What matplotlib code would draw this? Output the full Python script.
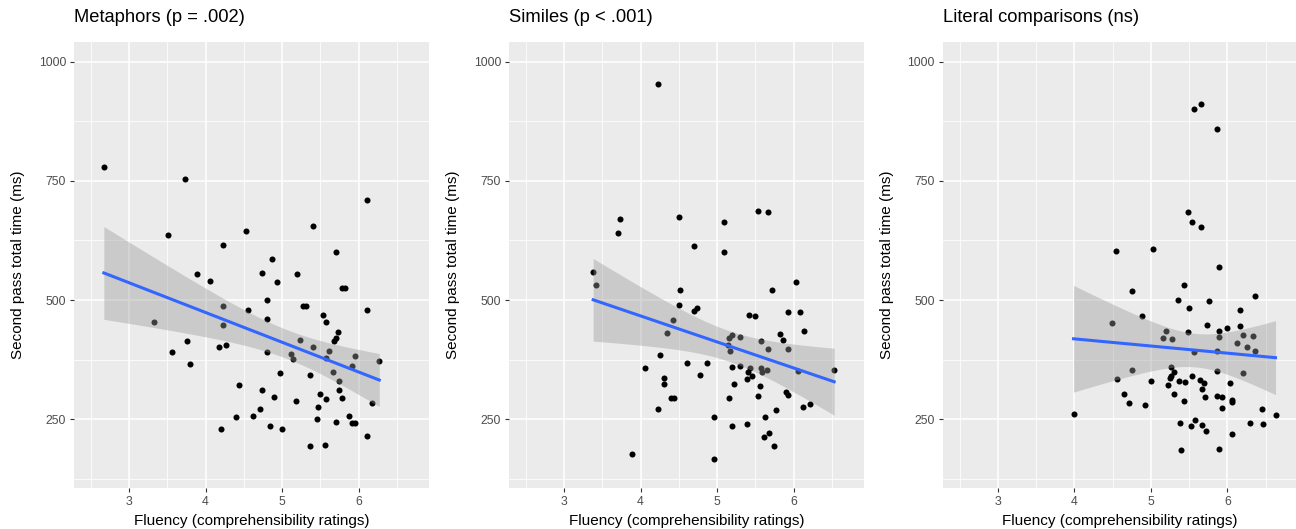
import numpy as np
import matplotlib.pyplot as plt

plt.rcParams['font.family'] = ['Liberation Sans', 'DejaVu Sans']

# values
met_x = [2.67, 3.73, 3.51, 4.23, 4.53, 3.89, 4.06, 4.23, 4.55, 3.32, 4.23, 3.76, 3.56,
         4.17, 4.27, 3.80, 4.44, 4.40, 4.20, 6.11, 5.40, 5.71, 4.87, 4.74, 5.20, 4.93,
         5.78, 5.82, 4.80, 5.27, 5.31, 6.11, 5.54, 5.58, 4.80, 5.73, 5.70, 5.68, 5.24,
         5.40, 5.61, 5.11, 5.14, 5.58, 5.95, 5.91, 6.27, 4.80, 5.67, 5.75, 4.97, 5.37,
         4.74, 4.90, 5.18, 5.49, 5.57, 5.74, 5.78, 6.18, 5.47, 4.71, 4.62, 5.46, 5.88,
         5.92, 5.95, 5.71, 4.84, 5.00, 6.11, 5.37, 5.56]
met_y = [780, 754, 636, 616, 644, 555, 539, 487, 479, 454, 447, 413, 390,
         401, 405, 366, 321, 254, 230, 711, 655, 600, 587, 557, 555, 537,
         526, 525, 500, 488, 488, 479, 468, 453, 460, 432, 420, 414, 416,
         401, 394, 387, 377, 378, 382, 361, 372, 390, 349, 331, 347, 343,
         311, 296, 289, 302, 293, 311, 295, 284, 275, 272, 257, 251, 256,
         242, 242, 244, 236, 229, 214, 193, 196]

sim_x = [3.73, 3.71, 4.50, 3.38, 3.42, 4.51, 4.50, 4.43, 4.34, 4.26, 4.06, 4.30, 4.30,
         4.40, 4.44, 4.23, 3.89, 4.23, 5.09, 5.09, 4.70, 5.53, 5.66, 6.03, 5.72, 4.70,
         4.74, 5.42, 5.49, 5.93, 6.09, 6.13, 5.82, 5.86, 5.15, 5.20, 5.30, 5.14, 5.17,
         5.58, 5.67, 5.93, 4.61, 4.87, 4.77, 5.20, 5.30, 5.43, 5.41, 5.45, 5.39, 5.57,
         5.59, 5.65, 6.06, 6.53, 5.22, 5.56, 5.15, 5.53, 5.90, 5.93, 5.77, 6.12, 6.21,
         4.96, 5.63, 5.19, 5.39, 5.68, 5.61, 5.74, 4.96]
sim_y = [670, 641, 675, 558, 532, 521, 490, 459, 431, 384, 357, 337, 324,
         295, 294, 272, 177, 954, 663, 600, 613, 686, 684, 538, 521, 476,
         483, 468, 466, 474, 474, 436, 429, 417, 421, 426, 422, 405, 394,
         414, 398, 397, 368, 368, 343, 359, 361, 357, 348, 340, 335, 357,
         349, 353, 352, 354, 323, 320, 294, 298, 307, 300, 270, 275, 282,
         254, 254, 236, 239, 220, 212, 194, 167]

lit_x = [3.99, 4.55, 4.49, 4.56, 5.48, 5.54, 5.66, 5.03, 5.89, 4.76, 5.43, 5.35, 5.50,
         5.76, 6.36, 6.17, 4.89, 5.73, 5.99, 6.17, 5.89, 5.48, 5.20, 5.16, 5.28, 5.89,
         6.20, 6.34, 6.13, 6.26, 6.36, 5.56, 5.86, 4.75, 5.27, 5.30, 5.27, 5.25, 5.00,
         5.37, 5.45, 5.23, 5.54, 5.64, 5.70, 5.67, 5.86, 6.20, 6.03, 4.65, 4.71, 4.93,
         5.30, 5.43, 5.71, 5.86, 5.93, 6.06, 6.06, 5.93, 6.45, 6.63, 5.38, 5.53, 5.58,
         5.67, 5.72, 6.06, 6.30, 6.46, 5.40, 5.89, 5.57, 5.65, 5.86]
lit_y = [260, 603, 452, 335, 684, 663, 653, 608, 570, 518, 532, 501, 483,
         497, 509, 480, 466, 448, 442, 445, 434, 433, 434, 421, 419, 422,
         426, 424, 410, 401, 394, 390, 392, 354, 360, 349, 340, 337, 331,
         331, 327, 322, 340, 332, 325, 314, 352, 347, 326, 303, 284, 280,
         303, 289, 297, 298, 296, 291, 285, 274, 272, 258, 241, 235, 248,
         238, 224, 219, 241, 240, 186, 187, 900, 912, 859]

titles = ["Metaphors (p = .002)", "Similes (p < .001)", "Literal comparisons (ns)"]
panels = [(met_x, met_y), (sim_x, sim_y), (lit_x, lit_y)]
x_ticks = [3, 4, 5, 6]
y_ticks = [250, 500, 750, 1000]

W, H = 1296, 529
fig = plt.figure(figsize=(W / 100, H / 100), dpi=100)
lefts = [74, 509, 942.7]
pw, top, bot = 355, 42.3, 487.7

for left, title, (xs, ys) in zip(lefts, titles, panels):
    ax = fig.add_axes([left / W, 1 - bot / H, pw / W, (bot - top) / H])
    ax.set_facecolor("#EBEBEB")
    for s in ax.spines.values():
        s.set_visible(False)
    ax.set_xlim(2.28, 6.92)
    ax.set_ylim(106, 1041)
    ax.set_xticks(x_ticks)
    ax.set_yticks(y_ticks)
    ax.set_xticks([2.5, 3.5, 4.5, 5.5, 6.5], minor=True)
    ax.set_yticks([125, 375, 625, 875], minor=True)
    ax.grid(which="major", color="white", linewidth=1.1)
    ax.grid(which="minor", color="white", linewidth=0.55)
    ax.set_axisbelow(True)
    ax.tick_params(which="minor", length=0)
    ax.tick_params(which="major", length=2.75, width=0.8, color="#333333",
                   labelsize=8.8, labelcolor="#4D4D4D", pad=3)

    x = np.array(xs)
    y = np.array(ys)
    ax.scatter(x, y, s=19, color="black", linewidths=0, zorder=2)

    # linear fit with 95% confidence band (like geom_smooth(method = "lm"))
    b, a = np.polyfit(x, y, 1)
    n = len(x)
    resid = y - (a + b * x)
    s_err = np.sqrt(np.sum(resid ** 2) / (n - 2))
    xx = np.linspace(x.min(), x.max(), 100)
    yy = a + b * xx
    se = s_err * np.sqrt(1 / n + (xx - x.mean()) ** 2 / np.sum((x - x.mean()) ** 2))
    t = 1.99
    ax.fill_between(xx, yy - t * se, yy + t * se, color="#999999", alpha=0.4,
                    linewidth=0, zorder=3)
    ax.plot(xx, yy, color="#3366FF", linewidth=2.2, zorder=4)

    fig.text(left / W, 1 - 18 / H, title, fontsize=13.2, ha="left", va="center")
    fig.text((left - 56) / W, 1 - (top + bot) / 2 / H, "Second pass total time (ms)",
             fontsize=11, rotation=90, ha="center", va="center")
    fig.text((left + pw / 2) / W, 1 - 520.5 / H, "Fluency (comprehensibility ratings)",
             fontsize=11, ha="center", va="center")

fig.savefig("out.png", dpi=100)
